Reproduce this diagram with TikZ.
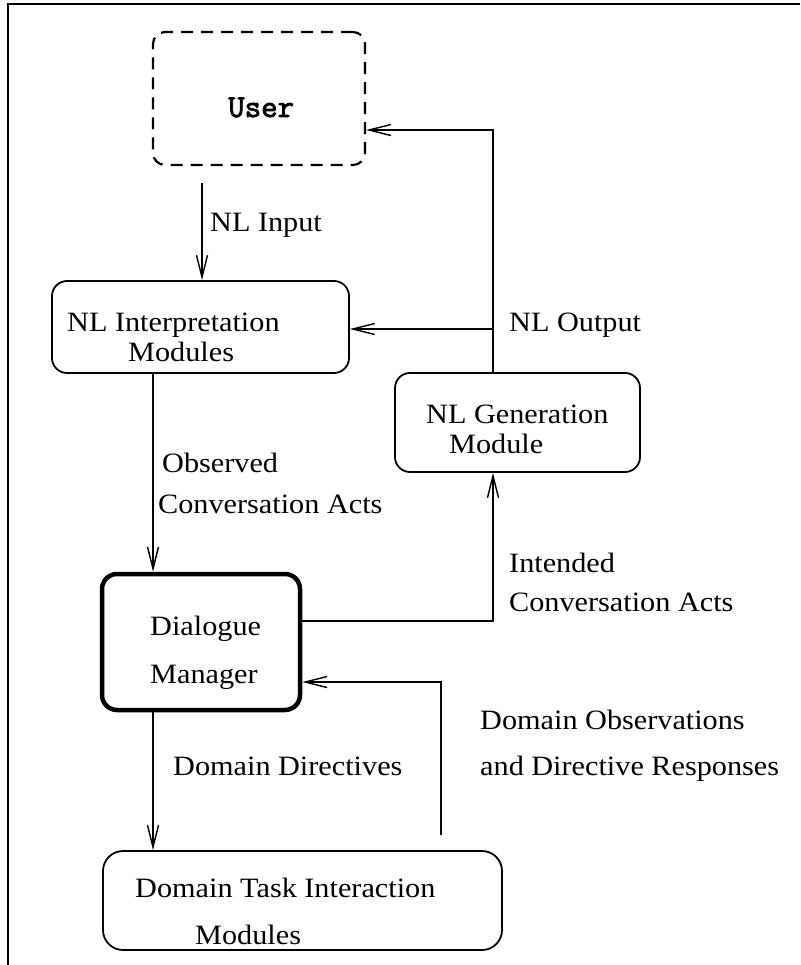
\documentclass[tikz,border=0pt]{standalone}
\usepackage{fontspec}
\setmainfont{Liberation Serif}[FakeStretch=1.08]
\newfontfamily\usermono{Latin Modern Mono}[FakeBold=2.5]
\usetikzlibrary{arrows.meta}

\tikzset{
  box/.style={draw, line width=1.8pt, rounded corners=15pt, inner sep=0pt},
  userbox/.style={box, line width=2.2pt, dash pattern=on 12pt off 8pt, rounded corners=12pt},
  mainbox/.style={box, line width=4.5pt},
  txt/.style={anchor=base west, inner sep=0pt, font=\fontsize{28}{34}\selectfont},
  arr/.style={line width=1.4pt, -{Straight Barb[length=22pt, width=11pt, line width=1.4pt]}},
  frame/.style={line width=2pt}
}

\begin{document}
\begin{tikzpicture}[x=1pt, y=-1pt]
  \useasboundingbox (0,0) rectangle (800,965);

  % page frame (left and top edges)
  \draw[frame] (8,965) -- (8,4) -- (800,4);

  % boxes
  \node[userbox, minimum width=212pt, minimum height=133pt] (user) at (259,98.5) {};
  \node[box, minimum width=297pt, minimum height=92pt]  (nli) at (200.5,327) {};
  \node[box, minimum width=245pt, minimum height=99pt]  (nlg) at (517.5,422.5) {};
  \node[mainbox, minimum width=198pt, minimum height=136pt] (dm) at (201,642) {};
  \node[box, rounded corners=20pt, minimum width=399pt, minimum height=99pt] (dti) at (302.5,900.5) {};

  % box texts
  \node[anchor=base west, inner sep=0pt, font=\usermono\fontsize{32}{36}\selectfont] (tuser) at (228,117) {User};
  \node[txt] (tnli1) at (67,331) {NL Interpretation};
  \node[txt] (tnli2) at (128,361) {Modules};
  \node[txt] (tnlg1) at (426,423) {NL Generation};
  \node[txt] (tnlg2) at (449,453) {Module};
  \node[txt] (tdm1) at (150,635) {Dialogue};
  \node[txt] (tdm2) at (150,683) {Manager};
  \node[txt] (tdti1) at (135,897) {Domain Task Interaction};
  \node[txt] (tdti2) at (195,944) {Modules};

  % connector labels
  \node[txt] (lin) at (210,232) {NL Input};
  \node[txt] (lout) at (509,331) {NL Output};
  \node[txt] (lobs1) at (162,472) {Observed};
  \node[txt] (lobs2) at (158,513) {Conversation Acts};
  \node[txt] (lint1) at (509,572) {Intended};
  \node[txt] (lint2) at (509,611) {Conversation Acts};
  \node[txt] (ldir) at (173,775) {Domain Directives};
  \node[txt] (lres1) at (480,729) {Domain Observations};
  \node[txt] (lres2) at (480,775) {and Directive Responses};

  % routing points
  \coordinate (inTop) at (202,183);
  \coordinate (outTop) at (493,130);
  \coordinate (outBr) at (493,329);
  \coordinate (leftX) at (153,400);
  \coordinate (intCorner) at (493,621);
  \coordinate (resBot) at (441,835);
  \coordinate (resTop) at (441,682);

  % connectors
  \draw[arr] (inTop) -- (inTop |- nli.north);
  \draw[arr] (nlg.north -| outTop) -- (outTop) -- (outTop -| user.east);
  \draw[arr] (outBr) -- (outBr -| nli.east);
  \draw[arr] (nli.south -| leftX) -- (dm.north -| leftX);
  \draw[arr] (intCorner -| dm.east) -- (intCorner) -- (nlg.south -| intCorner);
  \draw[arr] (dm.south -| leftX) -- (dti.north -| leftX);
  \draw[arr] (resBot) -- (resTop) -- (resTop -| dm.east);
\end{tikzpicture}
\end{document}
